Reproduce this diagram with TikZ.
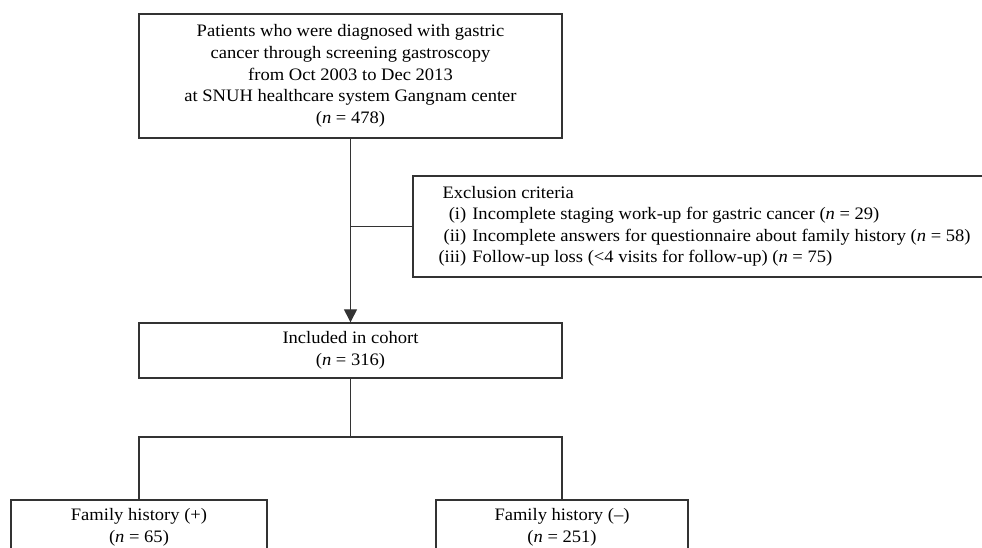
\documentclass[tikz,border=0pt]{standalone}
\usepackage{fontspec}
\setmainfont[FakeStretch=1.06]{Liberation Serif}
\usetikzlibrary{arrows.meta}
\begin{document}
\begin{tikzpicture}[x=1pt,y=-1pt,
  every node/.style={font=\fontsize{17.5}{21.7}\selectfont},
  box/.style={draw=black!80, line width=1.4pt, align=center, inner sep=0pt, fill=white},
  conn/.style={draw=black!80, line width=1.3pt},
  arr/.style={conn, -{Triangle[width=13pt,length=13pt]}}]
\useasboundingbox (0,0) rectangle (982,547);
\clip (0,0) rectangle (982,547);
\fill[white] (0,0) rectangle (982,547);
\node[box, minimum width=423pt, minimum height=124pt] (top) at (350.5,76)
  {Patients who were diagnosed with gastric\\
   cancer through screening gastroscopy\\
   from Oct 2003 to Dec 2013\\
   at SNUH healthcare system Gangnam center\\
   (\textit{n} = 478)};
\node[box, minimum width=423pt, minimum height=55pt] (incl) at (350.5,350.5)
  {Included in cohort\\(\textit{n} = 316)};
\node[box, minimum width=587pt, minimum height=101pt] (excl) at (706.5,226.5) {};
\node[anchor=north west, inner sep=0pt, align=left] (extext) at ([xshift=26pt,yshift=-8pt]excl.north west)
  {\def\arraystretch{1}\fontsize{17.5}{21.3}\selectfont
   \begin{tabular}{@{}r@{\hspace{6pt}}l@{}}
   \multicolumn{2}{@{}l}{\hspace{4pt}Exclusion criteria}\\
   (i) & Incomplete staging work-up for gastric cancer (\textit{n} = 29)\\
   (ii) & Incomplete answers for questionnaire about family history (\textit{n} = 58)\\
   (iii) & Follow-up loss (<4 visits for follow-up) (\textit{n} = 75)
   \end{tabular}};
\node[box, minimum width=256pt, minimum height=54pt] (fhp) at (139,527)
  {Family history (+)\\(\textit{n} = 65)};
\node[box, minimum width=252pt, minimum height=54pt] (fhm) at (562,527)
  {Family history (–)\\(\textit{n} = 251)};
\coordinate (split) at (350.5,437);
\draw[arr] (top.south) -- (incl.north);
\draw[conn] (top.south |- excl.west) -- (excl.west);
\draw[conn] (incl.south) -- (split);
\draw[conn] (fhp.north) -- (fhp.north |- split) -- (fhm.north |- split) -- (fhm.north);
\end{tikzpicture}
\end{document}
